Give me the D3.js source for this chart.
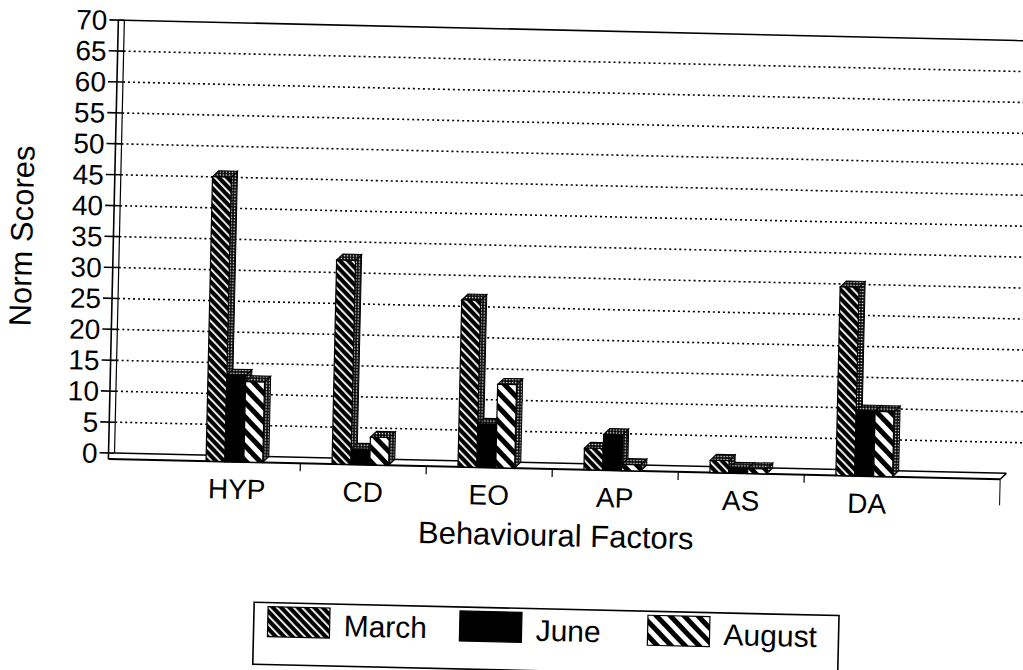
<!DOCTYPE html>
<html><head><meta charset="utf-8">
<script src="https://cdn.jsdelivr.net/npm/d3@7"></script>
<style>
body{margin:0;background:#fff;}
text{font-family:"Liberation Sans", Arial, Helvetica, sans-serif; fill:#000;}
</style>
</head><body>
<svg id="chart" width="1023" height="670"></svg>
<script>
// ---- data ----
const categories = ["HYP", "CD", "EO", "AP", "AS", "DA"];
const seriesNames = ["March", "June", "August"];
const marchValues  = [46, 33, 27, 3.5, 2, 30.5];
const juneValues   = [14, 2.5, 7, 5.8, 0.8, 10.5];
const augustValues = [13, 4.5, 13.5, 1, 0.8, 10.5];
const yTickValues  = [0, 5, 10, 15, 20, 25, 30, 35, 40, 45, 50, 55, 60, 65, 70];
const xTitle = "Behavioural Factors";
const yTitle = "Norm Scores";

const seriesValues = [marchValues, juneValues, augustValues];
const fills = ["url(#patMarch)", "#000", "url(#patAugust)"];

const svg = d3.select("#chart");
const defs = svg.append("defs");

// patterns
const pm = defs.append("pattern").attr("id", "patMarch").attr("patternUnits", "userSpaceOnUse")
  .attr("width", 6).attr("height", 6).attr("patternTransform", "rotate(-45)");
pm.append("rect").attr("width", 6).attr("height", 6).attr("fill", "#000");
pm.append("rect").attr("x", 1).attr("width", 1.8).attr("height", 6).attr("fill", "#fff");

const pa = defs.append("pattern").attr("id", "patAugust").attr("patternUnits", "userSpaceOnUse")
  .attr("width", 10).attr("height", 10).attr("patternTransform", "rotate(-45)");
pa.append("rect").attr("width", 10).attr("height", 10).attr("fill", "#fff");
pa.append("rect").attr("x", 0).attr("width", 5).attr("height", 10).attr("fill", "#000");

const pd = defs.append("pattern").attr("id", "patDots").attr("patternUnits", "userSpaceOnUse")
  .attr("width", 3).attr("height", 3);
pd.append("rect").attr("width", 3).attr("height", 3).attr("fill", "#000");
pd.append("rect").attr("x", 0.8).attr("y", 0.8).attr("width", 1.4).attr("height", 1.4).attr("fill", "#fff");

// whole page slightly rotated like the scanned original
const root = svg.append("g").attr("transform", "rotate(1.3,112,300)");

const depth = 6;
const axisX = 112;
const wallX = axisX + depth;
const rightX = 1040;

const y = d3.scaleLinear().domain([0, 70]).range([453, 20]);
const x = d3.scaleBand().domain(categories).range([175, 931]).paddingInner(0.55).paddingOuter(0.275);
const xs = d3.scaleBand().domain(seriesNames).range([0, x.bandwidth()]);

// gridlines (back wall)
root.append("g").selectAll("line").data(yTickValues.filter(v => v > 0 && v < 70)).join("line")
  .attr("x1", wallX).attr("x2", rightX)
  .attr("y1", d => y(d)).attr("y2", d => y(d))
  .attr("stroke", "#000").attr("stroke-width", 1.6).attr("stroke-dasharray", "2,3");
// top border
root.append("line").attr("x1", wallX).attr("x2", rightX).attr("y1", y(70)).attr("y2", y(70))
  .attr("stroke", "#000").attr("stroke-width", 1.6);

// floor
root.append("line").attr("x1", wallX).attr("x2", 1010).attr("y1", y(0)).attr("y2", y(0))
  .attr("stroke", "#000").attr("stroke-width", 1.5);
root.append("line").attr("x1", axisX).attr("x2", 1004).attr("y1", y(0) + depth).attr("y2", y(0) + depth)
  .attr("stroke", "#000").attr("stroke-width", 2);
root.append("line").attr("x1", 1010).attr("x2", 1004).attr("y1", y(0)).attr("y2", y(0) + depth)
  .attr("stroke", "#000").attr("stroke-width", 1.5);
root.append("line").attr("x1", 1004).attr("x2", 1004).attr("y1", y(0) + depth).attr("y2", y(0) + depth + 26)
  .attr("stroke", "#000").attr("stroke-width", 1);

// y axis double line
root.append("line").attr("x1", axisX).attr("x2", axisX).attr("y1", y(70)).attr("y2", y(0) + depth)
  .attr("stroke", "#000").attr("stroke-width", 1.6);
root.append("line").attr("x1", wallX).attr("x2", wallX).attr("y1", y(70)).attr("y2", y(0))
  .attr("stroke", "#000").attr("stroke-width", 1.2);
root.append("line").attr("x1", axisX).attr("x2", wallX).attr("y1", y(70)).attr("y2", y(70))
  .attr("stroke", "#000").attr("stroke-width", 1.2);

// y ticks and labels
const yt = root.append("g").selectAll("g").data(yTickValues).join("g");
yt.append("line").attr("x1", axisX - 9).attr("x2", wallX).attr("y1", d => y(d)).attr("y2", d => y(d))
  .attr("stroke", "#000").attr("stroke-width", 1.6);
yt.append("text").attr("x", axisX - 11).attr("y", d => y(d)).attr("dy", "0.36em")
  .attr("text-anchor", "end").attr("font-size", 28).text(d => d);

// x ticks at category boundaries
const bounds = categories.slice(1).map(c => x(c) - (x.step() - x.bandwidth()) / 2 + depth / 2);
root.append("g").selectAll("line").data(bounds).join("line")
  .attr("x1", d => d).attr("x2", d => d).attr("y1", y(0) + depth).attr("y2", y(0) + depth + 8)
  .attr("stroke", "#000").attr("stroke-width", 1.2);

// bars (3D)
categories.forEach((cat, i) => {
  seriesNames.forEach((s, j) => {
    const v = seriesValues[j][i];
    const bx = x(cat) + xs(s);
    const bw = xs.bandwidth();
    const yt0 = y(v) + depth, yb = y(0) + depth;
    const g = root.append("g");
    g.append("polygon")
      .attr("points", [[bx + bw, yt0], [bx + bw + depth, y(v)], [bx + bw + depth, y(0)], [bx + bw, yb]].map(p => p.join(",")).join(" "))
      .attr("fill", "url(#patDots)").attr("stroke", "#000").attr("stroke-width", 1);
    g.append("polygon")
      .attr("points", [[bx, yt0], [bx + depth, y(v)], [bx + bw + depth, y(v)], [bx + bw, yt0]].map(p => p.join(",")).join(" "))
      .attr("fill", "url(#patDots)").attr("stroke", "#000").attr("stroke-width", 1);
    g.append("rect").attr("x", bx).attr("y", yt0).attr("width", bw).attr("height", yb - yt0)
      .attr("fill", fills[j]).attr("stroke", "#000").attr("stroke-width", 1.2);
  });
});

// x labels
root.append("g").selectAll("text").data(categories).join("text")
  .attr("x", d => x(d) + x.bandwidth() / 2 + depth / 2).attr("y", 496)
  .attr("text-anchor", "middle").attr("font-size", 28).text(d => d);

// axis titles
root.append("text").attr("x", 561).attr("y", 536).attr("text-anchor", "middle")
  .attr("font-size", 31).text(xTitle);
root.append("text").attr("transform", "translate(31,238) rotate(-90)").attr("text-anchor", "middle")
  .attr("font-size", 31).text(yTitle);

// legend
const lg = root.append("g");
lg.append("rect").attr("x", 261).attr("y", 599).attr("width", 585).attr("height", 62)
  .attr("fill", "none").attr("stroke", "#000").attr("stroke-width", 1.6);
const legX = [275, 467, 655];
seriesNames.forEach((s, j) => {
  lg.append("rect").attr("x", legX[j]).attr("y", 603).attr("width", 62).attr("height", 30)
    .attr("fill", fills[j]).attr("stroke", "#000").attr("stroke-width", 1.2);
  lg.append("text").attr("x", legX[j] + 76).attr("y", 631).attr("font-size", 30).text(s);
});
</script>
</body></html>
